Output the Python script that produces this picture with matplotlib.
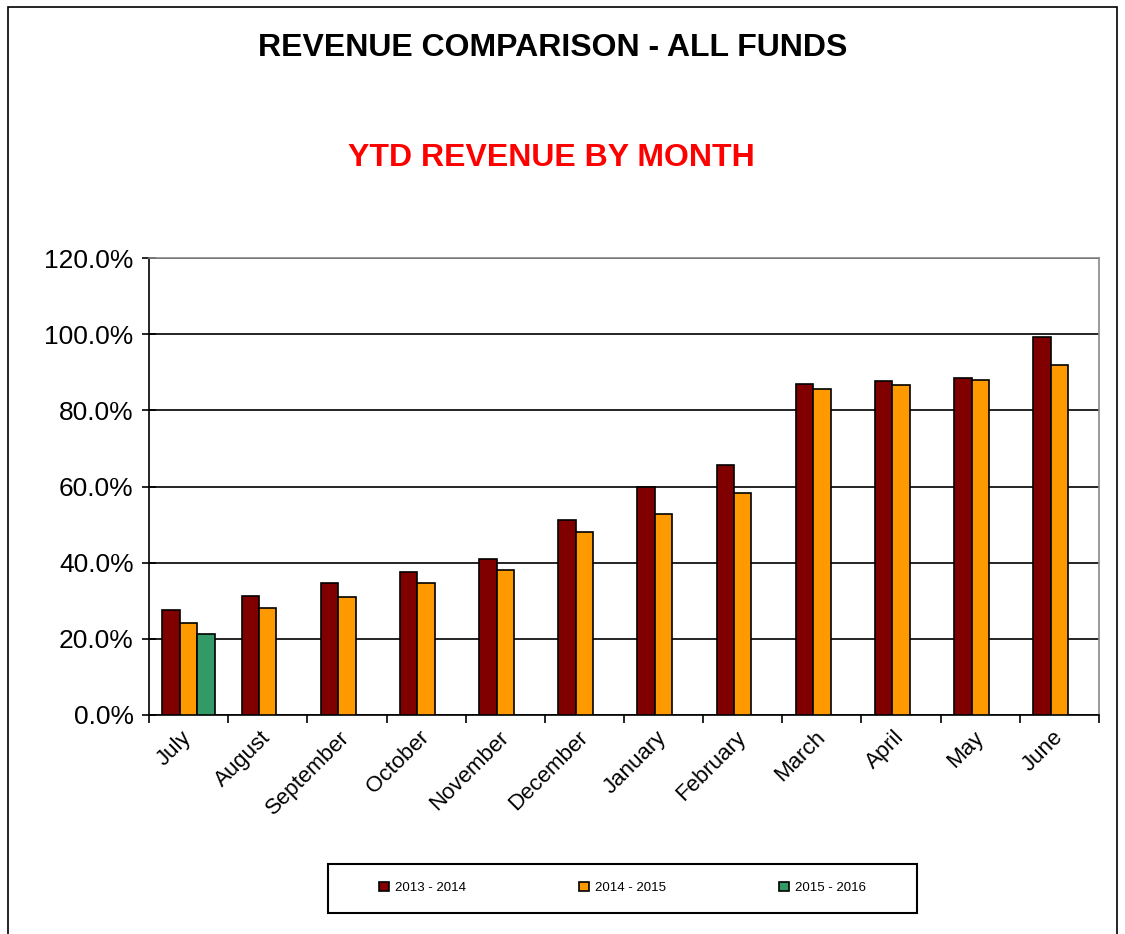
import matplotlib
matplotlib.use("Agg")
import matplotlib.pyplot as plt
from matplotlib.patches import Patch, Rectangle
from matplotlib.ticker import FuncFormatter, MultipleLocator
import numpy as np

plt.rcParams['font.family'] = ['Liberation Sans', 'DejaVu Sans']

months = ["July", "August", "September", "October", "November", "December",
          "January", "February", "March", "April", "May", "June"]
fy_2013_2014 = [27.6, 31.2, 34.7, 37.6, 41.0, 51.2, 59.9, 65.6, 86.9, 87.7, 88.5, 99.3]
fy_2014_2015 = [24.2, 28.1, 31.0, 34.7, 38.1, 48.1, 52.8, 58.3, 85.6, 86.7, 88.0, 91.9]
fy_2015_2016 = [21.3]
series_names = ["2013 - 2014", "2014 - 2015", "2015 - 2016"]
colors = ["#800000", "#FF9900", "#339966"]

W, H = 1125, 934
fig = plt.figure(figsize=(W / 100, H / 100), dpi=100)

# outer frame
fig.patches.append(Rectangle((8 / W, -0.01), (1117 - 8) / W, (H - 7) / H + 0.01,
                             transform=fig.transFigure, fill=False,
                             edgecolor="black", linewidth=1.2))

ax = fig.add_axes([149 / W, (H - 715) / H, 950 / W, 457 / H])

bw = 0.22
x = np.arange(len(months)) + 0.5
series = [fy_2013_2014, fy_2014_2015, fy_2015_2016]
for k, (vals, c) in enumerate(zip(series, colors)):
    xs = x[:len(vals)] + (k - 1) * bw
    ax.bar(xs, vals, width=bw, color=c, edgecolor="black", linewidth=1.2, zorder=3)

ax.set_xlim(0, 12)
ax.set_ylim(0, 120)
ax.yaxis.set_major_locator(MultipleLocator(20))
ax.yaxis.set_major_formatter(FuncFormatter(lambda v, p: f"{v:.1f}%"))
ax.grid(axis="y", color="black", linewidth=1.2, zorder=1)

ax.set_xticks(np.arange(0, 13))
ax.set_xticklabels([])
ax.set_xticks(x, minor=True)
ax.set_xticklabels(months, minor=True, rotation=45, ha="right", va="center",
                   rotation_mode="anchor", fontsize=16)
ax.tick_params(axis="x", which="minor", length=0, pad=14)
ax.tick_params(axis="x", which="major", length=6, width=1.2, direction="out")
ax.tick_params(axis="y", length=10, width=1.2, direction="inout", labelsize=19, pad=6)

for s in ["left", "bottom"]:
    ax.spines[s].set_color("black")
    ax.spines[s].set_linewidth(1.2)
for s in ["top", "right"]:
    ax.spines[s].set_color("#888888")
    ax.spines[s].set_linewidth(1.2)

fig.text(553 / W, (H - 48) / H, "REVENUE COMPARISON - ALL FUNDS", ha="center", va="center",
         fontsize=23, fontweight="bold", color="black")
fig.text(551 / W, (H - 158) / H, "YTD REVENUE BY MONTH", ha="center", va="center",
         fontsize=23, fontweight="bold", color="#FF0000")

# legend box
fig.patches.append(Rectangle((328 / W, (H - 913) / H), 589 / W, 49 / H,
                             transform=fig.transFigure, fill=False,
                             edgecolor="black", linewidth=1.5))
handles = [Patch(facecolor=c, edgecolor="black", linewidth=1.2) for c in colors]
leg = fig.legend(handles, series_names, loc="center", ncol=3,
                 bbox_to_anchor=(622.5 / W, (H - 888) / H),
                 fontsize=9.5, frameon=False,
                 handlelength=0.75, handleheight=0.75, handletextpad=0.45,
                 columnspacing=8.6, borderaxespad=0, borderpad=0)

fig.savefig("out.png", dpi=100)
